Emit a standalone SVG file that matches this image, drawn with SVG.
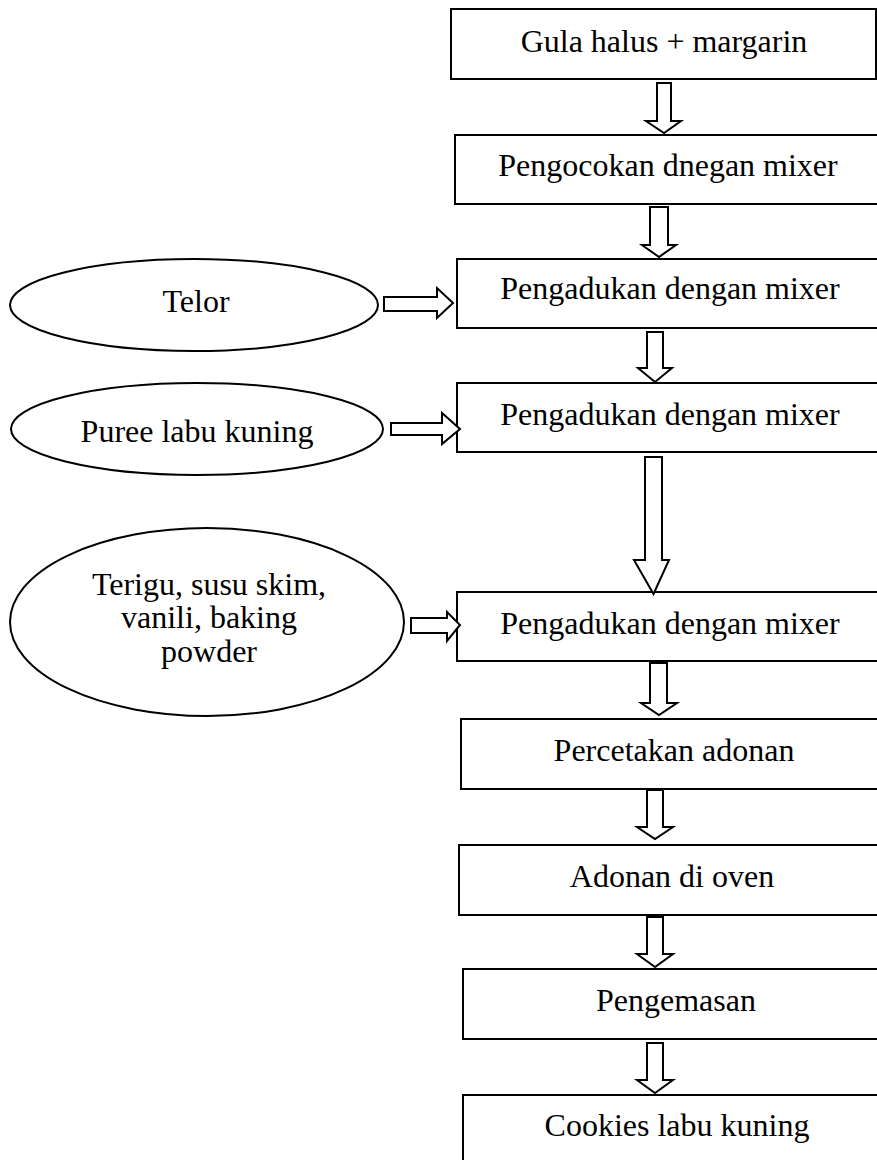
<svg xmlns="http://www.w3.org/2000/svg" width="877" height="1160" viewBox="0 0 877 1160">
  <style>
    .box { fill: #fff; stroke: #000; stroke-width: 2; }
    .oval { fill: #fff; stroke: #000; stroke-width: 2; }
    .arrow { fill: #fff; stroke: #000; stroke-width: 2; stroke-linejoin: miter; }
    .label { font-family: "Liberation Serif", "Times New Roman", serif; font-size: 32px; fill: #000; text-anchor: middle; }
  </style>
  <rect width="877" height="1160" fill="#fff"/>

  <!-- process steps -->
  <g id="step-gula">
    <rect class="box" x="451" y="9" width="425" height="70"/>
    <text class="label" x="664" y="52">Gula halus + margarin</text>
  </g>
  <g id="step-pengocokan">
    <rect class="box" x="455" y="135" width="440" height="69"/>
    <text class="label" x="668" y="176">Pengocokan dnegan mixer</text>
  </g>
  <g id="step-pengadukan-1">
    <rect class="box" x="457" y="259" width="440" height="69"/>
    <text class="label" x="670" y="299">Pengadukan dengan mixer</text>
  </g>
  <g id="step-pengadukan-2">
    <rect class="box" x="457" y="383" width="440" height="69"/>
    <text class="label" x="670" y="425">Pengadukan dengan mixer</text>
  </g>
  <g id="step-pengadukan-3">
    <rect class="box" x="457" y="592" width="440" height="69"/>
    <text class="label" x="670" y="634">Pengadukan dengan mixer</text>
  </g>
  <g id="step-percetakan">
    <rect class="box" x="461" y="719" width="440" height="70"/>
    <text class="label" x="674" y="761">Percetakan adonan</text>
  </g>
  <g id="step-oven">
    <rect class="box" x="459" y="845" width="440" height="70"/>
    <text class="label" x="672" y="887">Adonan di oven</text>
  </g>
  <g id="step-pengemasan">
    <rect class="box" x="463" y="969" width="440" height="70"/>
    <text class="label" x="676" y="1011">Pengemasan</text>
  </g>
  <g id="step-cookies">
    <rect class="box" x="463" y="1095" width="440" height="80"/>
    <text class="label" x="677" y="1136">Cookies labu kuning</text>
  </g>

  <!-- ingredients -->
  <g id="in-telor">
    <ellipse class="oval" cx="194" cy="305" rx="184" ry="46"/>
    <text class="label" x="196" y="312">Telor</text>
  </g>
  <g id="in-puree">
    <ellipse class="oval" cx="197" cy="429" rx="186" ry="46"/>
    <text class="label" x="197" y="442">Puree labu kuning</text>
  </g>
  <g id="in-terigu">
    <ellipse class="oval" cx="207" cy="622" rx="197" ry="94"/>
    <text class="label" x="209" y="595">Terigu, susu skim,</text>
    <text class="label" x="209" y="628">vanili, baking</text>
    <text class="label" x="209" y="662">powder</text>
  </g>

  <!-- block arrows -->
  <g id="connectors">
    <!-- downward flow -->
    <polygon class="arrow" points="657,83 671,83 671,121 681,121 664,133 646,121 657,121"/>
    <polygon class="arrow" points="650,207 668,207 668,245 676,245 659,257 642,245 650,245"/>
    <polygon class="arrow" points="647,332 663,332 663,368 672,368 655,382 638,368 647,368"/>
    <polygon class="arrow" points="645,457 662,457 662,560 669,560 653.5,594 634,560 645,560"/>
    <polygon class="arrow" points="650,663 667,663 667,703 677,703 659,715 641,703 650,703"/>
    <polygon class="arrow" points="647,790 663,790 663,827 673,827 655,839 637,827 647,827"/>
    <polygon class="arrow" points="647,917 663,917 663,954 673,954 655,967 637,954 647,954"/>
    <polygon class="arrow" points="647,1043 663,1043 663,1080 673,1080 655,1093 637,1080 647,1080"/>
    <!-- ingredient inputs -->
    <polygon class="arrow" points="384,297 437,297 437,288 453,303 437,318 437,311 384,311"/>
    <polygon class="arrow" points="391,423 442,423 442,413 460,429 442,444 442,435 391,435"/>
    <polygon class="arrow" points="411,618 447,618 447,612 460,625 447,641 447,633 411,633"/>
  </g>
</svg>
